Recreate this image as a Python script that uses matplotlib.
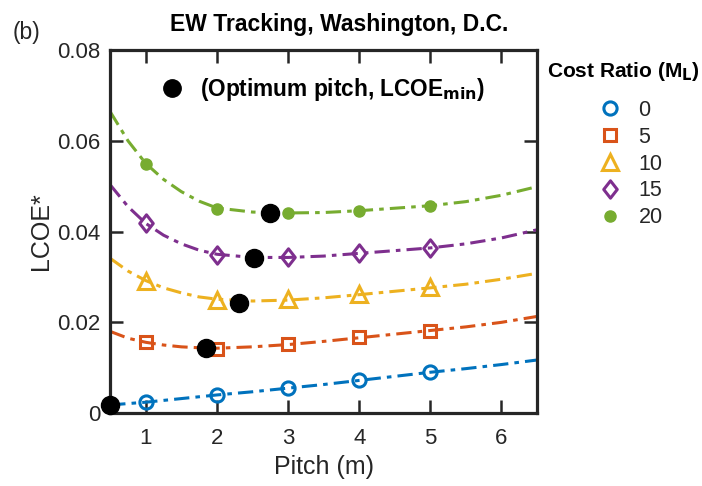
import numpy as np
import matplotlib
matplotlib.use('Agg')
import matplotlib.pyplot as plt
from matplotlib.path import Path

plt.rcParams['font.family'] = ['Liberation Sans', 'DejaVu Sans']

# fitted curves
pitch_fit = [0.5, 0.75, 1, 1.25, 1.5, 1.75, 2, 2.5, 3, 3.5, 4, 5, 5.5, 6, 6.5]
fit_0 = [0.0018, 0.0021, 0.0024, 0.0028, 0.0032, 0.0036, 0.0040, 0.0047, 0.0055, 0.0063, 0.0072, 0.0090, 0.0098, 0.0107, 0.0117]
fit_5 = [0.0180, 0.0165, 0.0156, 0.0150, 0.0146, 0.0144, 0.0143, 0.0146, 0.0151, 0.0158, 0.0166, 0.0182, 0.0190, 0.0200, 0.0213]
fit_10 = [0.0341, 0.0313, 0.0292, 0.0276, 0.0265, 0.0256, 0.0251, 0.0247, 0.0249, 0.0254, 0.0261, 0.0276, 0.0284, 0.0295, 0.0308]
fit_15 = [0.0503, 0.0455, 0.0418, 0.0392, 0.0373, 0.0359, 0.0350, 0.0343, 0.0343, 0.0346, 0.0352, 0.0364, 0.0373, 0.0386, 0.0404]
fit_20 = [0.0664, 0.0600, 0.0550, 0.0515, 0.0488, 0.0467, 0.0452, 0.0443, 0.0441, 0.0442, 0.0446, 0.0457, 0.0466, 0.0480, 0.0499]

# simulated points
pitch = [1, 2, 3, 4, 5]
pts_0 = [0.0024, 0.0040, 0.0055, 0.0072, 0.0090]
pts_5 = [0.0156, 0.0142, 0.0153, 0.0167, 0.0182]
pts_10 = [0.0290, 0.0250, 0.0251, 0.0263, 0.0277]
pts_15 = [0.0418, 0.0349, 0.0343, 0.0352, 0.0363]
pts_20 = [0.0550, 0.0450, 0.0440, 0.0446, 0.0457]

# optimum (pitch, LCOE_min)
opt_pitch = [0.5, 1.85, 2.31, 2.52, 2.75]
opt_lcoe = [0.0018, 0.0143, 0.0242, 0.0341, 0.0442]

ratios = ['0', '5', '10', '15', '20']
colors = ['#0072BD', '#D95319', '#EDB120', '#7E2F8E', '#77AC30']
fits = [fit_0, fit_5, fit_10, fit_15, fit_20]
pts = [pts_0, pts_5, pts_10, pts_15, pts_20]

# matlab-like diamond (a bit taller than wide)
diamond = Path([(0, -1), (0.78, 0), (0, 1), (-0.78, 0), (0, -1)],
               [Path.MOVETO, Path.LINETO, Path.LINETO, Path.LINETO, Path.CLOSEPOLY])
marker_styles = [
    dict(marker='o', ms=9.5, mfc='none', mew=2.2),
    dict(marker='s', ms=8, mfc='none', mew=2.2),
    dict(marker='^', ms=12, mfc='none', mew=2.2),
    dict(marker=diamond, ms=12.5, mfc='none', mew=2.2),
    dict(marker='o', ms=8, mew=1),
]

fig = plt.figure(figsize=(7.02, 4.86), dpi=100)
ax = fig.add_axes([0.157, 0.150, 0.608, 0.747])

dash = (0, (5, 2, 1.5, 2))
handles = []
for fit, p, c, ms in zip(fits, pts, colors, marker_styles):
    ax.plot(pitch_fit, fit, color=c, lw=2.2, linestyle=dash, zorder=2)
    h, = ax.plot(pitch, p, linestyle='none', color=c, mec=c, zorder=3, **ms)
    handles.append(h)

ax.plot(opt_pitch, opt_lcoe, 'o', color='black', ms=13, zorder=4, clip_on=False)

# annotation for the optimum marker
ax.plot([1.37], [0.0716], 'o', color='black', ms=12.5)
ax.text(1.76, 0.0714, r'(Optimum pitch, LCOE$_{\mathbf{min}}$)', fontsize=16.3,
        fontweight='bold', va='center', ha='left')

ax.set_xlim(0.5, 6.5)
ax.set_ylim(0, 0.08)
ax.set_xticks([1, 2, 3, 4, 5, 6])
ax.set_yticks([0, 0.02, 0.04, 0.06, 0.08])
ax.set_yticklabels(['0', '0.02', '0.04', '0.06', '0.08'])
ax.tick_params(direction='in', length=9.5, width=1.8, top=True, right=True,
               labelsize=16, colors='#262626')
ax.tick_params(axis='x', pad=11)
ax.tick_params(axis='y', pad=7)
for sp in ax.spines.values():
    sp.set_linewidth(2.3)
    sp.set_color('#262626')

ax.set_xlabel('Pitch (m)', fontsize=18, color='#262626', labelpad=4)
ax.set_ylabel('LCOE*', fontsize=18, color='#262626', labelpad=3)
ax.set_title('EW Tracking, Washington, D.C.', fontsize=16.5, fontweight='bold',
             x=0.536, pad=14)
fig.text(13 / 702, 1 - 39 / 486, '(b)', fontsize=16.5, color='#262626', va='baseline')

fig.text(547 / 702, 1 - 77 / 486, r'Cost Ratio (M$_\mathbf{L}$)', fontsize=15,
         fontweight='bold', va='baseline')
leg = ax.legend(handles, ratios, loc='upper left',
                bbox_to_anchor=(594 / 702, 1 - 100 / 486), bbox_transform=fig.transFigure,
                frameon=False, fontsize=15.5, borderpad=0, borderaxespad=0,
                handletextpad=0.62, labelspacing=0.27, handlelength=1.45)
for t in leg.get_texts():
    t.set_color('#262626')

fig.savefig('out.png', dpi=100)
